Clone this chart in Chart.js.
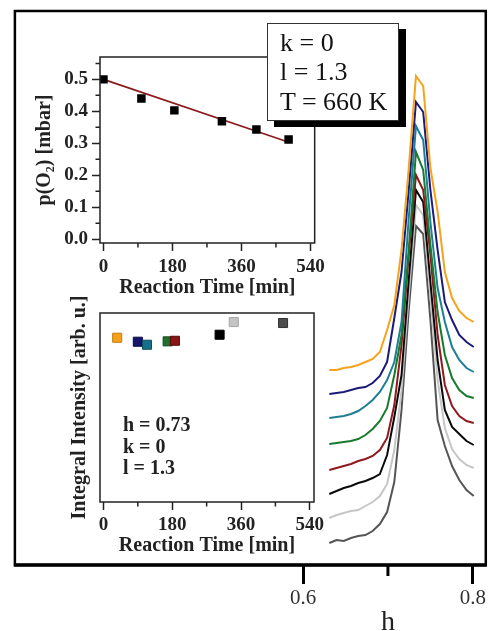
<!DOCTYPE html>
<html>
<head>
<meta charset="utf-8">
<script src="https://cdn.jsdelivr.net/npm/chart.js@4/dist/chart.umd.min.js"></script>
<style>
html,body{margin:0;padding:0;background:#fff;}
#wrap{position:relative;width:488px;height:631px;overflow:hidden;background:#fff;}
canvas{position:absolute;}
#main{left:0;top:0;}
#in1{left:20px;top:40px;}
#in2{left:20px;top:290px;}
#box{position:absolute;left:267px;top:23px;width:132px;height:98px;box-sizing:border-box;border:1.5px solid #333;background:#fff;box-shadow:7px 6px 0 #000;font-family:'Liberation Serif',serif;font-size:26px;line-height:29.5px;padding:3.5px 0 0 12px;color:#111;white-space:nowrap;}
#note{position:absolute;left:123px;top:414px;font-family:'Liberation Serif',serif;font-weight:bold;font-size:20px;line-height:21.7px;color:#222;white-space:nowrap;}
</style>
</head>
<body>
<div id="wrap">
  <canvas id="main" width="488" height="631"></canvas>
  <canvas id="in1" width="310" height="265"></canvas>
  <canvas id="in2" width="310" height="275"></canvas>
  <div id="box">k = 0<br>l = 1.3<br>T = 660 K</div>
  <div id="note">h = 0.73<br>k = 0<br>l = 1.3</div>
</div>
<script>
// ---------- main panel: h scans (intensity, arb. units, offset per scan) ----------
const H_STEPS = [0.631,0.6395,0.648,0.6565,0.665,0.6735,0.682,0.6905,0.699,0.7075,0.716,0.7245,0.733,0.7415,0.75,0.7585,0.767,0.7755,0.784,0.7925,0.801];
const SCAN_1 = [195,195,197,198,200,203,206,213,235,260,315,397,489,479,397,353,293,267,254,247,243];
const SCAN_2 = [171,172,173,175,177,178,182,189,203,247,293,375,463,453,375,315,263,245,230,223,218];
const SCAN_3 = [147,148,149,151,154,159,165,173,185,203,243,347,439,425,343,277,243,218,205,197,193];
const SCAN_4 = [121,122,123,124,126,130,136,144,157,190,230,315,413,395,320,253,210,187,175,169,167];
const SCAN_5 = [95,97,99,101,104,106,109,115,127,160,220,310,390,375,310,230,180,159,149,144,142];
const SCAN_6 = [71,74,77,79,82,84,87,91,110,148,190,285,375,363,283,205,155,138,131,124,120];
const SCAN_7 = [47,50,52,54,55,59,63,69,81,115,175,270,360,350,270,185,137,116,106,100,97];
const SCAN_8 = [22,25,24,27,29,30,34,41,53,83,155,255,339,331,245,145,119,99,85,75,69];
const H_AXIS = [0.6, 0.8];          // labelled axis range
const H_MINOR = [0.7];
const H_FRAME = [0.2608, 0.8152];   // extent of the outer plot frame in h

// ---------- inset 1: oxygen pressure ----------
const TIME_P = [0, 99, 185, 309, 399, 483];
const P_O2 = [0.50, 0.44, 0.403, 0.369, 0.343, 0.312];
const FIT_TIME = [0, 480];
const FIT_P = [0.50, 0.305];
const P_TICKS = [0.0, 0.1, 0.2, 0.3, 0.4, 0.5];
const P_MINOR = [0.05, 0.15, 0.25, 0.35, 0.45, 0.55];
const TIME_TICKS = [0, 180, 360, 540];
const TIME_MINOR = [90, 270, 450];

// ---------- inset 2: integral intensity ----------
const TIME_I = [36, 90, 114, 168, 187, 304, 341, 470];
const INTENSITY = [0.869, 0.848, 0.832, 0.850, 0.853, 0.885, 0.952, 0.947];

// styles
const SCAN_COLORS = ['#f7a21b','#1b1b7a','#1e7e96','#177a2c','#8e1a1e','#0a0a0a','#c6c6c6','#555555'];
const PT_FILL = ['#f6a01a','#15156e','#17708a','#1f6e2a','#8c1414','#000000','#c4c4c4','#4d4d4d'];
const PT_EDGE = ['#c27c10','#0a0a40','#0e4d60','#124a1a','#5a0a0a','#000000','#a6a6a6','#333333'];
const SERIF = "'Liberation Serif', serif";
const INK = '#222';

const framePlugin = {
  id: 'frame',
  afterDraw(chart, args, o) {
    const {ctx, chartArea: a, scales} = chart;
    const left = o.frameX ? scales.x.getPixelForValue(o.frameX[0]) : a.left;
    const right = o.frameX ? scales.x.getPixelForValue(o.frameX[1]) : a.right;
    ctx.save();
    ctx.strokeStyle = o.color;
    ctx.lineWidth = o.width;
    ctx.strokeRect(left, a.top, right - left, a.bottom - a.top);
    if (o.bottomWidth) {
      ctx.lineWidth = o.bottomWidth;
      ctx.beginPath(); ctx.moveTo(left - 1, a.bottom); ctx.lineTo(right + 1, a.bottom); ctx.stroke();
    }
    ctx.lineWidth = o.tickWidth;
    ctx.beginPath();
    (o.minorX || []).forEach(v => {
      const x = scales.x.getPixelForValue(v);
      ctx.moveTo(x, a.bottom); ctx.lineTo(x, a.bottom + o.minorLen);
    });
    (o.minorY || []).forEach(v => {
      const y = scales.y.getPixelForValue(v);
      ctx.moveTo(a.left, y); ctx.lineTo(a.left - o.minorLen, y);
    });
    ctx.stroke();
    ctx.restore();
  }
};

Chart.defaults.font.family = SERIF;
Chart.defaults.color = INK;

// ---------- main chart ----------
const scans = [SCAN_1,SCAN_2,SCAN_3,SCAN_4,SCAN_5,SCAN_6,SCAN_7,SCAN_8];
new Chart(document.getElementById('main'), {
  type: 'line',
  data: {
    datasets: scans.map((s, i) => ({
      data: H_STEPS.map((h, j) => ({x: h, y: s[j]})),
      borderColor: SCAN_COLORS[i],
      borderWidth: 2,
      pointRadius: 0,
      tension: 0,
      fill: false,
      clip: false
    }))
  },
  options: {
    responsive: false,
    animation: false,
    layout: {padding: {left: 303, top: 11, right: 14, bottom: 0}},
    plugins: {
      legend: {display: false},
      tooltip: {enabled: false},
      frame: {frameX: H_FRAME, color: '#000', width: 2.5, bottomWidth: 3.5, tickWidth: 3, minorLen: 11, minorX: H_MINOR}
    },
    scales: {
      x: {
        type: 'linear', min: H_AXIS[0], max: H_AXIS[1],
        afterBuildTicks: s => { s.ticks = H_AXIS.map(v => ({value: v})); },
        afterFit: s => { s.height = 66; },
        border: {display: false},
        grid: {display: true, drawOnChartArea: false, drawTicks: true, tickLength: 19, tickWidth: 3, tickColor: '#000'},
        ticks: {font: {family: SERIF, size: 21}, color: '#333', padding: 2, maxRotation: 0, autoSkip: false, callback: v => v.toFixed(1)},
        title: {display: true, text: 'h', font: {family: SERIF, size: 28, lineHeight: 0.6}, color: '#222', padding: {top: 0, bottom: 0}}
      },
      y: {type: 'linear', display: false, min: 0, max: 554}
    }
  },
  plugins: [framePlugin]
});

// ---------- inset 1 ----------
new Chart(document.getElementById('in1'), {
  type: 'scatter',
  data: {
    datasets: [
      {data: TIME_P.map((t, i) => ({x: t, y: P_O2[i]})), pointStyle: 'rect', pointRadius: 6, backgroundColor: '#000', borderColor: '#000', borderWidth: 0, order: 0},
      {data: FIT_TIME.map((t, i) => ({x: t, y: FIT_P[i]})), showLine: true, borderColor: '#8b1a1a', borderWidth: 1.6, pointRadius: 0, order: 1}
    ]
  },
  options: {
    responsive: false,
    animation: false,
    layout: {padding: {left: 0, top: 17, right: 15, bottom: 0}},
    plugins: {
      legend: {display: false},
      tooltip: {enabled: false},
      frame: {color: '#222', width: 1.5, tickWidth: 1.5, minorLen: 4.5, minorX: TIME_MINOR, minorY: P_MINOR}
    },
    scales: {
      x: {
        type: 'linear', min: -9, max: 551,
        afterBuildTicks: s => { s.ticks = TIME_TICKS.map(v => ({value: v})); },
        afterFit: s => { s.height = 62; },
        border: {display: false},
        grid: {drawOnChartArea: false, drawTicks: true, tickLength: 8, tickWidth: 1.5, tickColor: '#222'},
        ticks: {font: {family: SERIF, size: 19, weight: 'bold'}, color: INK, padding: 5, maxRotation: 0, autoSkip: false, callback: v => String(v)},
        title: {display: true, text: 'Reaction Time [min]', font: {family: SERIF, size: 20, weight: 'bold'}, color: INK, padding: {top: 0, bottom: 5}}
      },
      y: {
        type: 'linear', min: -0.012, max: 0.57,
        afterBuildTicks: s => { s.ticks = P_TICKS.map(v => ({value: v})); },
        afterFit: s => { s.width = 80; },
        border: {display: false},
        grid: {drawOnChartArea: false, drawTicks: true, tickLength: 8, tickWidth: 1.5, tickColor: '#222'},
        ticks: {font: {family: SERIF, size: 19, weight: 'bold'}, color: INK, padding: 4, autoSkip: false, callback: v => v.toFixed(1)},
        title: {display: true, text: 'p(O\u2082) [mbar]', font: {family: SERIF, size: 20, weight: 'bold'}, color: INK, padding: {top: 13, bottom: 0}}
      }
    }
  },
  plugins: [framePlugin]
});

// ---------- inset 2 ----------
new Chart(document.getElementById('in2'), {
  type: 'scatter',
  data: {
    datasets: [
      {data: TIME_I.map((t, i) => ({x: t, y: INTENSITY[i]})), pointStyle: 'rect', pointRadius: 6.4, backgroundColor: PT_FILL, borderColor: PT_EDGE, borderWidth: 1}
    ]
  },
  options: {
    responsive: false,
    animation: false,
    layout: {padding: {left: 0, top: 23, right: 16, bottom: 0}},
    plugins: {
      legend: {display: false},
      tooltip: {enabled: false},
      frame: {color: '#222', width: 1.5, tickWidth: 1.5, minorLen: 4.5, minorX: TIME_MINOR}
    },
    scales: {
      x: {
        type: 'linear', min: -9, max: 551,
        afterBuildTicks: s => { s.ticks = TIME_TICKS.map(v => ({value: v})); },
        afterFit: s => { s.height = 63; },
        border: {display: false},
        grid: {drawOnChartArea: false, drawTicks: true, tickLength: 8, tickWidth: 1.5, tickColor: '#222'},
        ticks: {font: {family: SERIF, size: 19, weight: 'bold'}, color: INK, padding: 4, maxRotation: 0, autoSkip: false, callback: v => String(v)},
        title: {display: true, text: 'Reaction Time [min]', font: {family: SERIF, size: 20, weight: 'bold'}, color: INK, padding: {top: 0, bottom: 7}}
      },
      y: {
        type: 'linear', min: 0, max: 1,
        afterFit: s => { s.width = 80; },
        border: {display: false},
        grid: {display: false, drawTicks: false},
        ticks: {display: false},
        title: {display: true, text: 'Integral Intensity [arb. u.]', font: {family: SERIF, size: 20, weight: 'bold'}, color: INK, padding: {top: 48, bottom: 0}}
      }
    }
  },
  plugins: [framePlugin]
});
</script>
</body>
</html>
